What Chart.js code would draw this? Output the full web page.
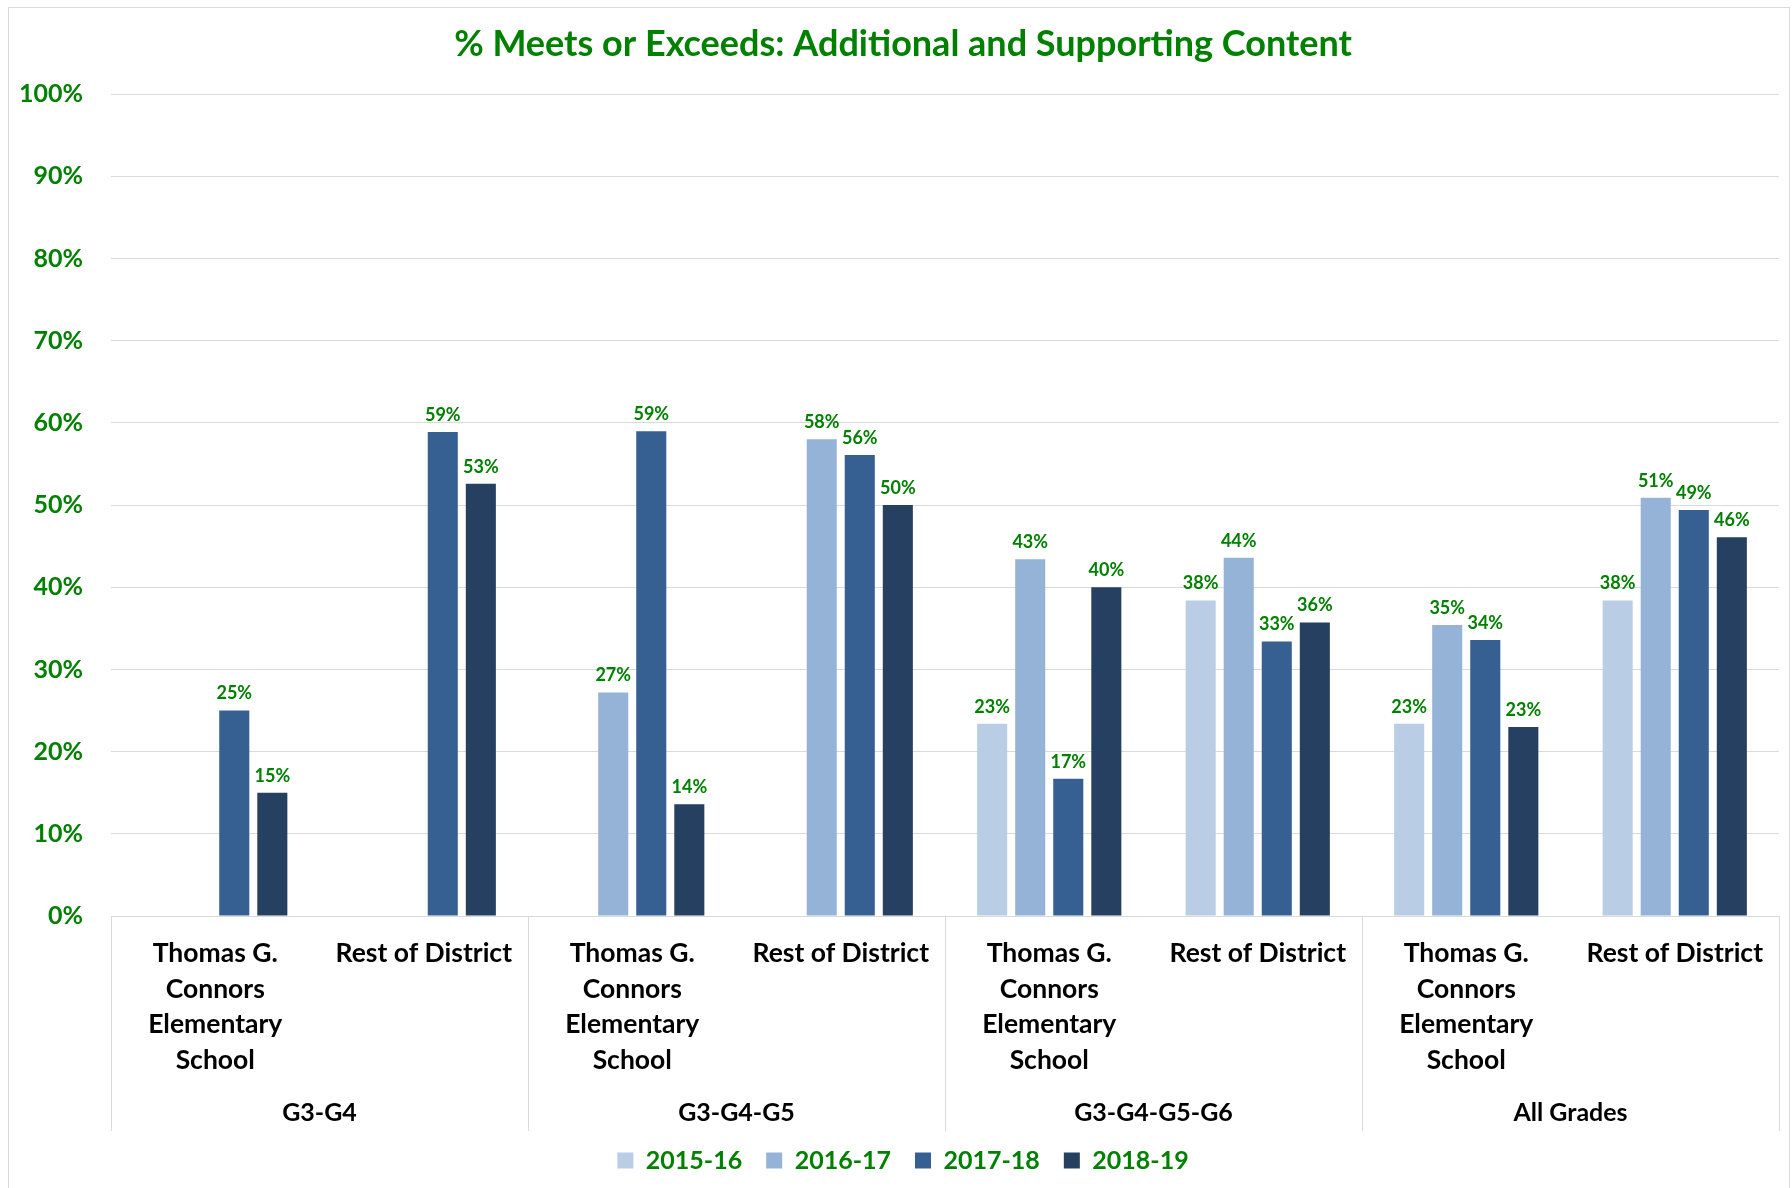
<!DOCTYPE html>
<html>
<head>
<meta charset="utf-8">
<script src="https://cdn.jsdelivr.net/npm/chart.js@4.4.1/dist/chart.umd.min.js"></script>
<style>
  html, body { margin: 0; padding: 0; background: #fff; }
  #wrap { width: 1792px; height: 1188px; position: relative; }
</style>
</head>
<body>
<div id="wrap"><canvas id="myChart" width="1792" height="1188"></canvas></div>
<script>
// dati del grafico
var categories = [
  ['Thomas G.', 'Connors', 'Elementary', 'School'], 'Rest of District',
  ['Thomas G.', 'Connors', 'Elementary', 'School'], 'Rest of District',
  ['Thomas G.', 'Connors', 'Elementary', 'School'], 'Rest of District',
  ['Thomas G.', 'Connors', 'Elementary', 'School'], 'Rest of District'
];
var groups = ['G3-G4', 'G3-G4-G5', 'G3-G4-G5-G6', 'All Grades'];
var years = ['2015-16', '2016-17', '2017-18', '2018-19'];

var y2015 = [null, null, null, null, 23.4, 38.4, 23.4, 38.4];
var y2016 = [null, null, 27.2, 58.0, 43.4, 43.6, 35.4, 50.9];
var y2017 = [25.0, 58.9, 59.0, 56.1, 16.7, 33.4, 33.6, 49.4];
var y2018 = [15.0, 52.6, 13.6, 50.0, 40.0, 35.7, 23.0, 46.1];

var yTicks = [0, 10, 20, 30, 40, 50, 60, 70, 80, 90, 100];

var colors = ['#B9CDE5', '#95B3D7', '#376092', '#254061'];
var green = '#008000';
var gridColor = '#D9D9D9';
var font = 'Lato';

// etichette sopra le barre + bordo esterno + righe dei gruppi
var extraPlugin = {
  id: 'extra',
  afterLayout: function(chart) {
    // lascia spazio alle etichette dell'asse y (non tagliarle)
    chart.scales.y.left = 0;
  },
  beforeDraw: function(chart) {
    var c = chart.ctx;
    c.save();
    c.fillStyle = '#fff';
    c.fillRect(0, 0, chart.width, chart.height);
    c.strokeStyle = gridColor;
    c.lineWidth = 1;
    c.strokeRect(8.5, 7.5, 1781, 1200);
    c.restore();
  },
  afterDatasetsDraw: function(chart) {
    var c = chart.ctx;
    c.save();
    c.font = 'bold 18px ' + font;
    c.fillStyle = green;
    c.textAlign = 'center';
    c.textBaseline = 'bottom';
    chart.data.datasets.forEach(function(ds, i) {
      var meta = chart.getDatasetMeta(i);
      meta.data.forEach(function(bar, j) {
        var v = ds.data[j];
        if (v === null) return;
        c.fillText(Math.round(v) + '%', bar.x, bar.y - 8);
      });
    });
    c.restore();
  },
  afterDraw: function(chart) {
    var c = chart.ctx;
    var x = chart.scales.x;
    var area = chart.chartArea;
    var bottom = 1131;
    c.save();
    c.strokeStyle = gridColor;
    c.lineWidth = 1;
    var edges = [area.left];
    for (var g = 1; g < groups.length; g++) {
      edges.push(Math.round((x.getPixelForValue(g * 2 - 1) + x.getPixelForValue(g * 2)) / 2));
    }
    edges.push(area.right);
    edges.forEach(function(px) {
      c.beginPath();
      c.moveTo(Math.round(px) + 0.5, area.bottom);
      c.lineTo(Math.round(px) + 0.5, bottom);
      c.stroke();
    });
    c.font = 'bold 25px ' + font;
    c.fillStyle = '#000';
    c.textAlign = 'center';
    c.textBaseline = 'middle';
    for (var k = 0; k < groups.length; k++) {
      c.fillText(groups[k], (edges[k] + edges[k + 1]) / 2, 1113);
    }
    c.restore();
  }
};

var ctx = document.getElementById('myChart').getContext('2d');
var myChart = new Chart(ctx, {
  type: 'bar',
  data: {
    labels: categories,
    datasets: [
      { label: years[0], data: y2015, backgroundColor: colors[0] },
      { label: years[1], data: y2016, backgroundColor: colors[1] },
      { label: years[2], data: y2017, backgroundColor: colors[2] },
      { label: years[3], data: y2018, backgroundColor: colors[3] }
    ]
  },
  options: {
    responsive: false,
    animation: false,
    devicePixelRatio: 1,
    datasets: {
      bar: { categoryPercentage: 0.73, barPercentage: 0.79 }
    },
    layout: { padding: { left: 27, right: 13, top: 0, bottom: 5 } },
    plugins: {
      title: {
        display: true,
        text: '% Meets or Exceeds: Additional and Supporting Content',
        color: green,
        font: { family: font, size: 36, weight: 'bold' },
        padding: { top: 23, bottom: 28 }
      },
      legend: {
        position: 'bottom',
        labels: {
          color: green,
          font: { family: font, size: 25, weight: 'bold' },
          boxWidth: 16,
          boxHeight: 16,
          padding: 24
        }
      },
      tooltip: { enabled: false }
    },
    scales: {
      x: {
        grid: { display: false },
        border: { display: true, color: gridColor },
        ticks: {
          color: '#000',
          font: { family: font, size: 26.5, weight: 'bold', lineHeight: 1.34 },
          padding: 12,
          autoSkip: false,
          maxRotation: 0
        },
        afterFit: function(s) { s.height = 208; }
      },
      y: {
        min: 0,
        max: 100,
        border: { display: false },
        grid: { color: gridColor, drawTicks: false },
        afterBuildTicks: function(s) {
          s.ticks = yTicks.map(function(v) { return { value: v }; });
        },
        ticks: {
          color: green,
          font: { family: font, size: 25, weight: 'bold' },
          padding: 28,
          callback: function(v) { return v + '%'; }
        },
        afterFit: function(s) { s.width = 84; }
      }
    }
  },
  plugins: [extraPlugin]
});
</script>
</body>
</html>
